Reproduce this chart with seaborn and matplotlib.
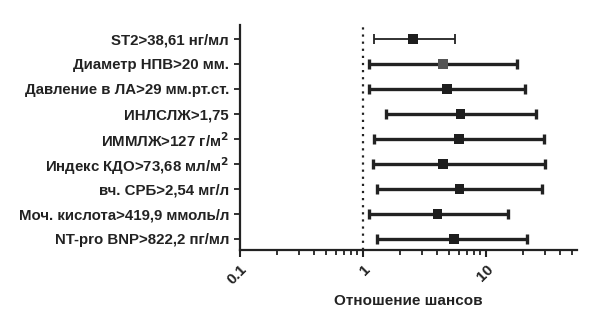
import matplotlib
matplotlib.use("Agg")
import matplotlib.pyplot as plt
import seaborn as sns
import numpy as np
import pandas as pd
from matplotlib.ticker import LogLocator, FixedLocator, FixedFormatter, NullFormatter

labels = ["ST2>38,61 нг/мл", "Диаметр НПВ>20 мм.", "Давление в ЛА>29 мм.рт.ст.",
          "ИНЛСЛЖ>1,75", "ИММЛЖ>127 г/м$^2$", "Индекс КДО>73,68 мл/м$^2$",
          "вч. СРБ>2,54 мг/л", "Моч. кислота>419,9 ммоль/л", "NT-pro BNP>822,2 пг/мл"]
odds = [2.56, 4.47, 4.85, 6.22, 6.03, 4.47, 6.10, 4.03, 5.49]
lower = [1.23, 1.12, 1.12, 1.54, 1.23, 1.21, 1.31, 1.11, 1.31]
upper = [5.56, 17.8, 20.6, 25.7, 29.7, 30.0, 28.3, 15.0, 21.6]

sns.set_style("ticks")
plt.rcParams['font.family'] = ['Liberation Sans', 'DejaVu Sans']
plt.rcParams['font.weight'] = 'bold'
plt.rcParams['mathtext.default'] = 'bf'

df = pd.DataFrame({"label": labels, "OR": odds, "lo": lower, "hi": upper})
df["pos"] = np.arange(len(df))

fig = plt.figure(figsize=(5.9, 3.15), dpi=100)
ax = fig.add_axes([240/590, 1-250/315, (577-240)/590, (250-25)/315])

dark = "#222222"
for i, r in df.iterrows():
    lw = 1.3 if i == 0 else 2.4
    ax.errorbar(r["OR"], r["pos"], xerr=[[r["OR"]-r["lo"]], [r["hi"]-r["OR"]]],
                fmt="none", ecolor=dark, elinewidth=lw, capsize=3.5, capthick=lw, zorder=2)

mcolors = ["#1e1e1e", "#555555"] + ["#1e1e1e"] * 7
sns.scatterplot(data=df, x="OR", y="pos", hue="label", palette=mcolors, marker="s",
                s=48, edgecolor="none", legend=False, ax=ax, zorder=3)

ax.axvline(1, color=dark, linestyle=(0, (1, 2.2)), linewidth=1.6, zorder=1)

ax.set_xscale("log")
ax.set_xlim(0.1, 55)
ax.set_ylim(8.45, -0.56)
ax.set_yticks(df["pos"])
ax.set_yticklabels(labels, fontsize=10.8, fontweight="bold", color="#222222")
ax.xaxis.set_major_locator(FixedLocator([0.1, 1, 10]))
ax.xaxis.set_major_formatter(FixedFormatter(["0.1", "1", "10"]))
ax.xaxis.set_minor_locator(LogLocator(base=10, subs=np.arange(2, 10), numticks=10))
ax.xaxis.set_minor_formatter(NullFormatter())
for t in ax.get_xticklabels():
    t.set_rotation(45)
    t.set_fontsize(11)
    t.set_fontweight("bold")
    t.set_ha("right")
    t.set_va("top")
    t.set_rotation_mode("anchor")
ax.set_xlabel("Отношение шансов", fontsize=11, fontweight="bold", labelpad=5, color="#222222")
ax.set_ylabel("")
ax.tick_params(axis="x", which="major", length=5, width=1.5, colors=dark, pad=4)
ax.tick_params(axis="x", which="minor", length=3.5, width=1.3, colors=dark)
ax.tick_params(axis="y", length=4, width=1.3, colors=dark, pad=4)
for s in ["left", "bottom"]:
    ax.spines[s].set_linewidth(1.6)
    ax.spines[s].set_color(dark)
for s in ["top", "right"]:
    ax.spines[s].set_visible(False)

fig.savefig("out.png", dpi=100)
